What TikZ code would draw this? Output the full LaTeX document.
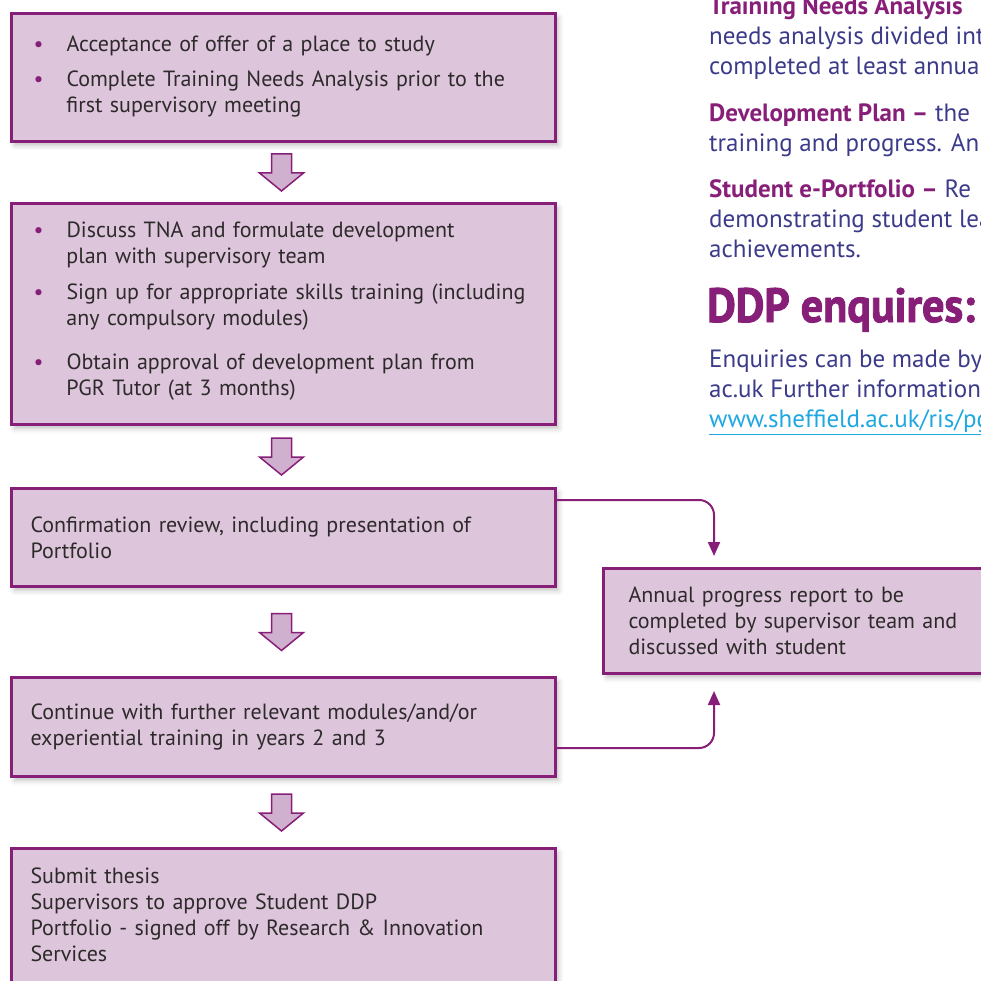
\documentclass[tikz,border=0pt]{standalone}
\usepackage{fontspec}
\setmainfont{PT Sans}
\newfontfamily\headfont[FakeStretch=0.92,FakeBold=2]{PT Sans}
\usetikzlibrary{arrows.meta,calc,positioning,shadows.blur}
\definecolor{ddppurple}{HTML}{871F78}
\definecolor{boxfill}{HTML}{DDC5DB}
\definecolor{arrowfill}{HTML}{D0B0CF}
\definecolor{bodyblue}{HTML}{3B3B8A}
\definecolor{linkcyan}{HTML}{1FA7E1}
\definecolor{boxtext}{HTML}{2E2A2B}
\tikzset{
	stagebox/.style={draw=ddppurple,line width=3pt,fill=boxfill,anchor=north west,minimum width=544pt,text width=506pt,inner xsep=19pt,inner ysep=12pt,align=left,text=boxtext,font=\fontsize{22}{26}\selectfont,
		blur shadow={shadow xshift=3pt,shadow yshift=-4pt,shadow blur radius=5pt,shadow opacity=25}},
	blockarrow/.style={draw=ddppurple,line width=1.5pt,fill=arrowfill,line join=miter},
	linkarrow/.style={draw=ddppurple,line width=2pt,rounded corners=15pt,-{Triangle[width=12pt,length=14pt]}},
	sidetext/.style={anchor=base west,inner sep=0pt,align=left,text=bodyblue,font=\fontsize{25}{30}\selectfont},
}
\newcommand\bitem[1]{\par\hangindent=36pt\hangafter=1\noindent\makebox[36pt][l]{\hspace{3pt}\textcolor{ddppurple}{\textbullet}}#1}
\newcommand\downblock[2]{%
	\draw[blockarrow] ($(#1.south)!.5!(#2.north)+(-12,-18.5)$) -- ++(20,0) -- ++(0,19) -- ++(12,0) -- ++(-22,18) -- ++(-22,-18) -- ++(12,0) -- cycle;}

\begin{document}
\begin{tikzpicture}[x=1pt,y=-1pt]
	\useasboundingbox (0,0) rectangle (981,981);
	\clip (0,0) rectangle (981,981);
	% flow of stages
	\node[stagebox,minimum height=128pt] (tna) at (10,12) {\bitem{Acceptance of offer of a place to study}\par\vspace{9pt}\bitem{Complete Training Needs Analysis prior to the\break first supervisory meeting}\par\vspace*{12pt}};
	\node[stagebox,minimum height=221pt,inner ysep=4pt] (plan) at (10,202) {\bitem{Discuss TNA and formulate development\break plan with supervisory team}\par\vspace{10pt}\bitem{Sign up for appropriate skills training (including\break any compulsory modules)}\par\vspace{18pt}\bitem{Obtain approval of development plan from\break PGR Tutor (at 3 months)}\par\vspace*{17pt}};
	\node[stagebox,minimum height=98pt] (review) at (10,487) {Confirmation review, including presentation of\\Portfolio};
	\node[stagebox,minimum height=99pt] (further) at (10,676) {Continue with further relevant modules/and/or\\experiential training in years 2 and 3};
	\node[stagebox] (submit) at (10,847) {\rule{0pt}{23pt}Submit thesis\\Supervisors to approve Student DDP\\Portfolio - signed off by Research \& Innovation\\Services\par\vspace*{30pt}};
	\node[stagebox,minimum width=420pt,text width=370pt,inner xsep=19pt,minimum height=105pt] (annual) at (602,567) {Annual progress report to be\\completed by supervisor team and\\discussed with student};

	\downblock{tna}{plan}
	\downblock{plan}{review}
	\downblock{review}{further}
	\downblock{further}{submit}

	\draw[linkarrow] ([yshift=-13pt]review.north east) -| ([xshift=112pt,yshift=11pt]annual.north west);
	\draw[linkarrow] ([yshift=30pt]further.south east) -| ([xshift=112pt,yshift=-16pt]annual.south west);

	% notes on the right
	\node[sidetext] (tnanote) at (709,75) {\textcolor{ddppurple}{\bfseries Training Needs Analysis}\\needs analysis divided into\\completed at least annually};
	\node[sidetext] (plannote) at (709,152) {\textcolor{ddppurple}{\bfseries Development Plan –} the\\training and progress. An e};
	\node[sidetext] (portnote) at (709,258) {\textcolor{ddppurple}{\bfseries Student e-Portfolio –} Re\\demonstrating student lea\\achievements.};
	\node[anchor=base west,inner sep=0pt,text=ddppurple,font=\headfont\bfseries\fontsize{48}{50}\selectfont] (enqhead) at (707,322) {DDP enquires:};
	\node[sidetext] (enqnote) at (709,427) {Enquiries can be made by\\ac.uk Further information\\\textcolor{linkcyan}{\underline{www.sheffield.ac.uk/ris/pgr}}};
\end{tikzpicture}
\end{document}
